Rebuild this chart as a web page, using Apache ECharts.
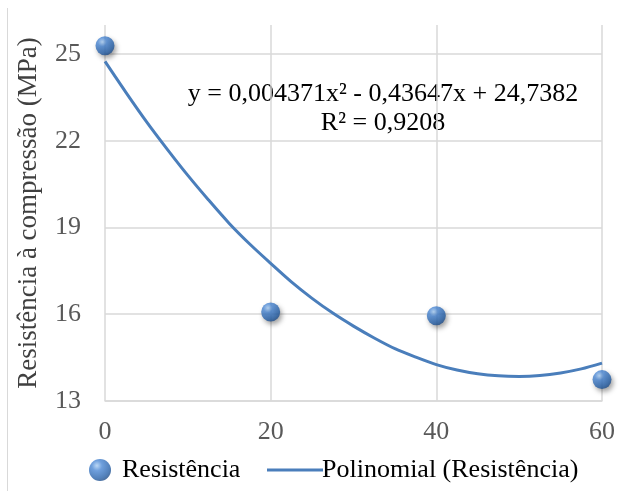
<!DOCTYPE html>
<html>
<head>
<meta charset="utf-8">
<script src="https://cdn.jsdelivr.net/npm/echarts@6/dist/echarts.min.js"></script>
<style>
  html, body { margin: 0; padding: 0; background: #fff; }
  #chart { width: 622px; height: 491px; }
</style>
</head>
<body>
<div id="chart"></div>
<script>
// dados
var idades = [0, 20, 40, 60];
var resistencia = [25.28, 16.08, 15.95, 13.74];

// curva de tendência, lida ponto a ponto na figura
var tendX = [0, 2.5, 5, 7.5, 10, 12.5, 15, 17.5, 20, 22.5, 25, 27.5, 30, 32.5, 35, 37.5, 40, 42.5, 45, 47.5, 50, 52.5, 55, 57.5, 60];
var tendY = [24.74, 23.68, 22.66, 21.71, 20.8, 19.95, 19.14, 18.42, 17.76, 17.12, 16.55, 16.04, 15.59, 15.18, 14.81, 14.52, 14.26, 14.07, 13.94, 13.87, 13.85, 13.88, 13.97, 14.11, 14.31];

var equacao = 'y = 0,004371x² - 0,43647x + 24,7382';
var r2 = 'R² = 0,9208';

var fonte = '"Liberation Serif", "Times New Roman", serif';

var esfera = {
    type: 'radial', x: 0.36, y: 0.3, r: 0.78,
    colorStops: [
        { offset: 0, color: '#a9cdf3' },
        { offset: 0.3, color: '#4a87d4' },
        { offset: 0.75, color: '#2862aa' },
        { offset: 1, color: '#1b467e' }
    ]
};

var option = {
    animation: false,
    grid: { left: 105, right: 20, top: 25, bottom: 90 },
    xAxis: {
        type: 'value',
        min: 0, max: 60, interval: 20,
        axisLine: { show: true, lineStyle: { color: '#d9d9d9', width: 1.5 } },
        axisTick: { show: false },
        axisLabel: { color: '#595959', fontSize: 26, fontFamily: fonte, margin: 18 },
        splitLine: { show: true, lineStyle: { color: '#d9d9d9', width: 1.5 } }
    },
    yAxis: {
        type: 'value',
        min: 13, max: 26, interval: 3,
        name: 'Resistência à compressão (MPa)',
        nameLocation: 'middle',
        nameGap: 63,
        nameTextStyle: { color: '#404040', fontSize: 27, fontFamily: fonte },
        axisLine: { show: false },
        axisTick: { show: false },
        axisLabel: { color: '#595959', fontSize: 26, fontFamily: fonte, margin: 24, showMaxLabel: false },
        splitLine: { show: true, showMaxLine: false, lineStyle: { color: '#d9d9d9', width: 1.5 } }
    },
    legend: [
        {
            data: ['Resistência'],
            left: 84, top: 452,
            itemWidth: 22, itemHeight: 22, itemGap: 0,
            textStyle: { color: '#000', fontSize: 26, fontFamily: fonte, padding: [0, 0, 0, 6] }
        },
        {
            data: [{ name: 'Polinomial (Resistência)', icon: 'rect' }],
            left: 262, top: 452,
            itemWidth: 56, itemHeight: 3,
            textStyle: { color: '#000', fontSize: 26, fontFamily: fonte, padding: [0, 0, 0, -6] }
        }
    ],
    graphic: [
        {
            type: 'line',
            shape: { x1: 7.5, y1: 8, x2: 7.5, y2: 491 },
            style: { stroke: '#d9d9d9', lineWidth: 1 }
        },
        {
            type: 'text', x: 383, y: 94,
            style: { text: equacao, fill: '#000', font: '26px ' + fonte, align: 'center', verticalAlign: 'middle' }
        },
        {
            type: 'text', x: 383, y: 123,
            style: { text: r2, fill: '#000', font: '26px ' + fonte, align: 'center', verticalAlign: 'middle' }
        }
    ],
    series: [
        {
            name: 'Polinomial (Resistência)',
            type: 'line',
            data: tendX.map(function (x, i) { return [x, tendY[i]]; }),
            smooth: 0.3,
            showSymbol: false,
            symbol: 'none',
            z: 2,
            lineStyle: { color: '#4a7ebb', width: 3 },
            itemStyle: { color: '#4a7ebb' }
        },
        {
            name: 'Resistência',
            type: 'scatter',
            data: idades.map(function (x, i) { return [x, resistencia[i]]; }),
            symbolSize: 19,
            z: 3,
            itemStyle: {
                color: esfera,
                shadowBlur: 5,
                shadowOffsetX: 2,
                shadowOffsetY: 3,
                shadowColor: 'rgba(0,0,0,0.45)'
            }
        }
    ]
};

var grafico = echarts.init(document.getElementById('chart'));
grafico.setOption(option);
</script>
</body>
</html>
